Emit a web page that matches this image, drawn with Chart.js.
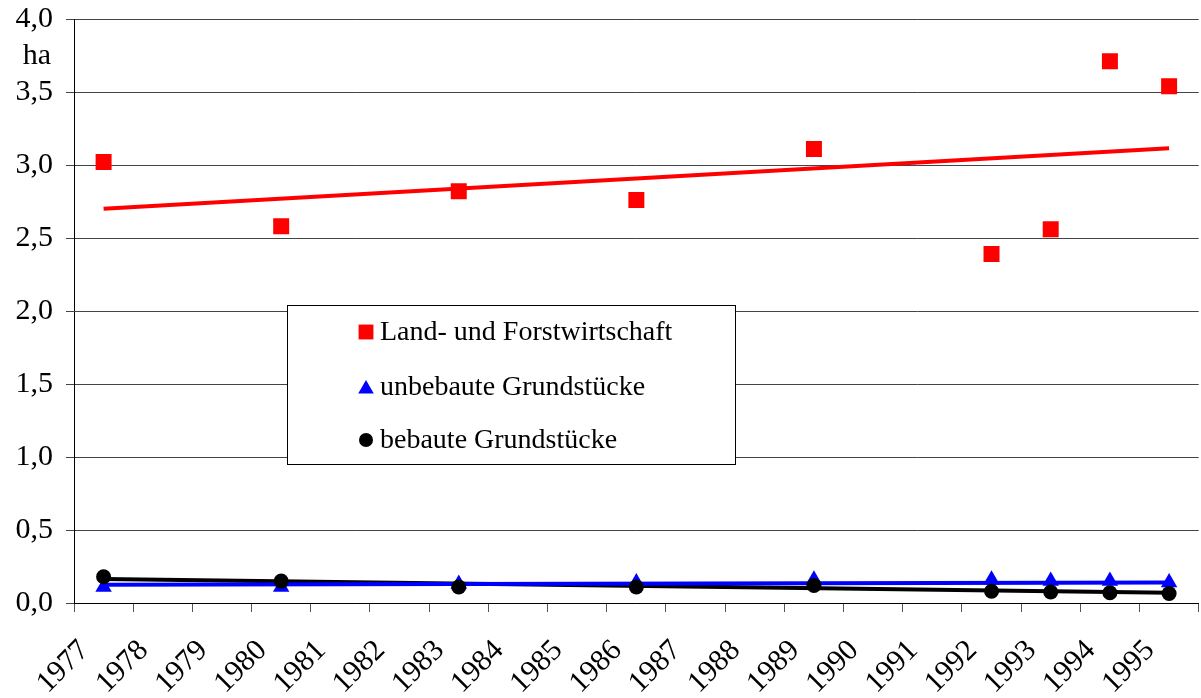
<!DOCTYPE html>
<html>
<head>
<meta charset="utf-8">
<script src="https://cdn.jsdelivr.net/npm/chart.js@4/dist/chart.umd.min.js"></script>
<style>
  html, body { margin: 0; padding: 0; background: #fff; overflow: hidden; }
  #wrap { width: 1201px; height: 698px; overflow: hidden; }
</style>
</head>
<body>
<div id="wrap"><canvas id="myChart" width="1210" height="698"></canvas></div>
<script>
// categories
const years = ['1977','1978','1979','1980','1981','1982','1983','1984','1985','1986',
               '1987','1988','1989','1990','1991','1992','1993','1994','1995']

// observed values (ha), null = no survey that year
const landForst  = [3.02, null, null, 2.58, null, null, 2.82, null, null, 2.76, null, null, 3.11, null, null, 2.39, 2.56, 3.71, 3.54]
const unbebaut   = [0.11, null, null, 0.11, null, null, 0.13, null, null, 0.14, null, null, 0.16, null, null, 0.16, 0.15, 0.15, 0.14]
const bebaut     = [0.18, null, null, 0.15, null, null, 0.11, null, null, 0.11, null, null, 0.12, null, null, 0.08, 0.075, 0.07, 0.065]

// trend lines, endpoints
const trendLand  = [2.70, null, null, null, null, null, null, null, null, null, null, null, null, null, null, null, null, null, 3.115]
const trendUnbeb = [0.125, null, null, null, null, null, null, null, null, null, null, null, null, null, null, null, null, null, 0.14]
const trendBeb   = [0.165, null, null, null, null, null, null, null, null, null, null, null, null, null, null, null, null, null, 0.07]

const yTicks = ['0,0','0,5','1,0','1,5','2,0','2,5','3,0','3,5','4,0']

const FONT = "'Liberation Serif', 'Times New Roman', serif"
Chart.defaults.font.family = FONT
Chart.defaults.color = '#000'

const legendBox = {
    id: 'legendBox',
    afterDraw(chart) {
        const ctx = chart.ctx
        ctx.save()
        ctx.fillStyle = '#fff'
        ctx.fillRect(287, 305, 449, 160)
        ctx.strokeStyle = '#000'
        ctx.lineWidth = 1
        ctx.strokeRect(287.5, 305.5, 448, 159)
        const rows = [332, 387, 440]
        chart.data.datasets.filter(d => d.inLegend).forEach((d, i) => {
            ctx.fillStyle = d.backgroundColor
            ctx.strokeStyle = d.borderColor
            const r = d.pointStyle === 'rect' ? 10.5 : (d.pointStyle === 'triangle' ? 9 : 7)
            const dy = d.pointStyle === 'triangle' ? 2 : 0
            Chart.helpers.drawPoint(ctx, {pointStyle: d.pointStyle, radius: r, rotation: 0, borderWidth: 0}, 366, rows[i] + dy)
            ctx.fillStyle = '#000'
            ctx.font = '28px ' + FONT
            ctx.textBaseline = 'middle'
            ctx.textAlign = 'left'
            ctx.fillText(d.label, 380, rows[i] + 1)
        })
        // unit label under the top tick
        ctx.font = '30px ' + FONT
        ctx.textAlign = 'right'
        ctx.textBaseline = 'middle'
        ctx.fillStyle = '#000'
        ctx.fillText('ha', 51, 56)
        ctx.restore()
    }
}

const data = {
    labels: years,
    datasets: [
        {
            label: 'Land- und Forstwirtschaft', inLegend: true,
            data: landForst, showLine: false,
            pointStyle: 'rect', pointRadius: 11.3, pointHoverRadius: 11.3,
            backgroundColor: '#ff0000', borderColor: '#ff0000', pointBorderWidth: 0,
            order: 3
        },
        {
            label: 'unbebaute Grundstücke', inLegend: true,
            data: unbebaut, showLine: false,
            pointStyle: 'triangle', pointRadius: 9.5, pointHoverRadius: 9.5,
            backgroundColor: '#0000ff', borderColor: '#0000ff', pointBorderWidth: 0,
            order: 2
        },
        {
            label: 'bebaute Grundstücke', inLegend: true,
            data: bebaut, showLine: false,
            pointStyle: 'circle', pointRadius: 7.5, pointHoverRadius: 7.5,
            backgroundColor: '#000000', borderColor: '#000000', pointBorderWidth: 0,
            order: 1
        },
        {
            label: 'Trend Land', data: trendLand, spanGaps: true,
            borderColor: '#ff0000', borderWidth: 4, pointRadius: 0, order: 6
        },
        {
            label: 'Trend unbebaut', data: trendUnbeb, spanGaps: true,
            borderColor: '#0000ff', borderWidth: 4, pointRadius: 0, order: 4
        },
        {
            label: 'Trend bebaut', data: trendBeb, spanGaps: true,
            borderColor: '#000000', borderWidth: 4, pointRadius: 0, order: 5
        }
    ]
};

const config = {
    type: 'line',
    data: data,
    plugins: [legendBox],
    options: {
        responsive: false,
        animation: false,
        events: [],
        layout: { padding: { top: 19, right: 4, left: 0, bottom: 0 } },
        plugins: { legend: { display: false }, tooltip: { enabled: false } },
        scales: {
            x: {
                type: 'category',
                offset: true,
                afterFit(scale) {
                    scale.height = 95
                    scale.paddingLeft = 0
                    scale.paddingRight = 0
                },
                grid: { display: true, drawOnChartArea: false, offset: true, tickLength: 9, color: '#555', lineWidth: 1 },
                border: { color: '#000', width: 1 },
                ticks: { font: { size: 30 }, minRotation: 45, maxRotation: 45, autoSkip: false, padding: 21, labelOffset: -19 }
            },
            y: {
                min: 0, max: 4,
                afterFit(scale) {
                    scale.width = 74
                    scale.paddingTop = 0
                    scale.paddingBottom = 0
                },
                grid: { color: '#444', lineWidth: 1, tickLength: 8 },
                border: { color: '#000', width: 1 },
                ticks: {
                    stepSize: 0.5, padding: 13, font: { size: 30 },
                    callback: (v, i) => yTicks[i]
                }
            }
        }
    }
};

const myChart = new Chart(document.getElementById('myChart'), config);
</script>
</body>
</html>
